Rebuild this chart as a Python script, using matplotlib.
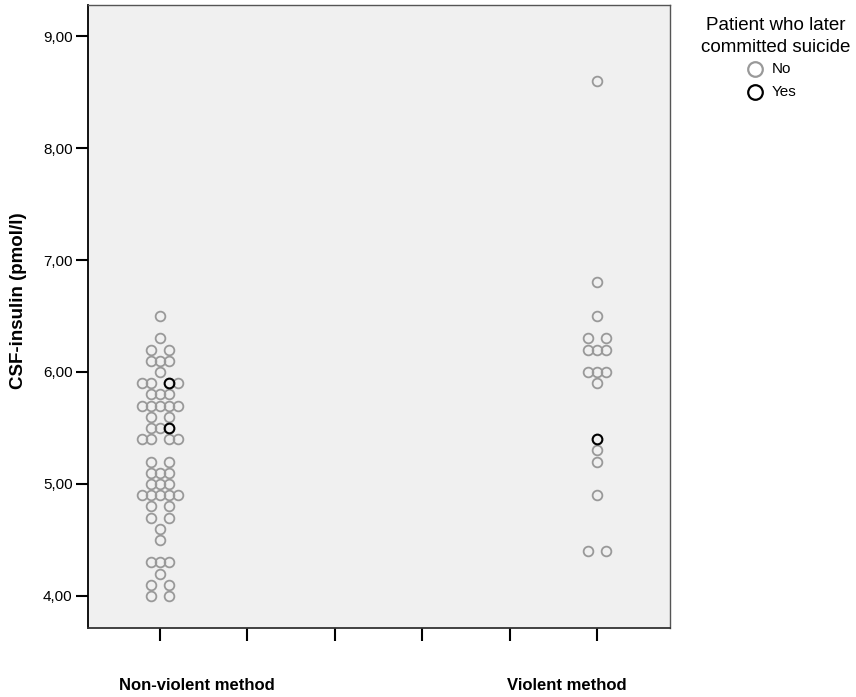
import matplotlib
matplotlib.use("Agg")
import matplotlib.pyplot as plt
from matplotlib.lines import Line2D
from collections import defaultdict

plt.rcParams['font.family'] = ['Liberation Sans', 'DejaVu Sans']

# ---- data ----
groups = ["Non-violent method", "Violent method"]
group_pos = [0, 5]

nonviolent_values = [6.5, 6.3, 6.2, 6.2, 6.1, 6.1, 6.1, 6.0,
                     5.9, 5.9, 5.9, 5.9, 5.8, 5.8, 5.8,
                     5.7, 5.7, 5.7, 5.7, 5.7, 5.6, 5.6,
                     5.5, 5.5, 5.5, 5.4, 5.4, 5.4, 5.4,
                     5.2, 5.2, 5.1, 5.1, 5.1, 5.0, 5.0, 5.0,
                     4.9, 4.9, 4.9, 4.9, 4.9, 4.8, 4.8, 4.7, 4.7,
                     4.6, 4.5, 4.3, 4.3, 4.3, 4.2, 4.1, 4.1, 4.0, 4.0]
nonviolent_suicide = [0] * len(nonviolent_values)
nonviolent_suicide[10] = 1   # 5.9
nonviolent_suicide[24] = 1   # 5.5

violent_values = [8.6, 6.8, 6.5, 6.3, 6.3, 6.2, 6.2, 6.2,
                  6.0, 6.0, 6.0, 5.9, 5.4, 5.3, 5.2, 4.9, 4.4, 4.4]
violent_suicide = [0] * len(violent_values)
violent_suicide[12] = 1      # 5.4

yticks = [4, 5, 6, 7, 8, 9]
ytick_labels = ["4,00", "5,00", "6,00", "7,00", "8,00", "9,00"]

step = 0.103

fig = plt.figure(figsize=(8.56, 6.97), dpi=100)
ax = fig.add_axes([88/856, 1-628/697, (670-88)/856, (628-5)/697])
ax.set_facecolor('#f0f0f0')

def stack(values):
    rows = defaultdict(list)
    for i, v in enumerate(values):
        rows[round(v, 2)].append(i)
    offs = [0.0] * len(values)
    for v, idx in rows.items():
        n = len(idx)
        if n % 2 == 1:
            slots = list(range(-(n // 2), n // 2 + 1))
        else:
            h = n // 2
            slots = list(range(-h, 0)) + list(range(1, h + 1))
        for k, i in enumerate(idx):
            offs[i] = slots[k] * step
    return offs

for gx, vals, flags in [(group_pos[0], nonviolent_values, nonviolent_suicide),
                        (group_pos[1], violent_values, violent_suicide)]:
    offs = stack(vals)
    for v, o, f in zip(vals, offs, flags):
        ax.plot(gx + o, v, 'o', markersize=7, markerfacecolor='none',
                markeredgecolor='black' if f else '#999999',
                markeredgewidth=1.5 if f else 1.3, zorder=3 if f else 2)

ax.set_xlim(-0.824, 5.835)
ax.set_ylim(3.714, 9.277)
ax.set_xticks([0, 1, 2, 3, 4, 5])
ax.set_xticklabels([])
ax.set_yticks(yticks)
ax.set_yticklabels(ytick_labels, fontsize=11)
ax.tick_params(axis='both', length=9, width=1.5, color='black', pad=2)
for s in ['top', 'right']:
    ax.spines[s].set_color('#555555')
    ax.spines[s].set_linewidth(1.0)
ax.spines['left'].set_color('black')
ax.spines['left'].set_linewidth(1.3)
ax.spines['bottom'].set_color('#333333')
ax.spines['bottom'].set_linewidth(1.3)

fig.text(19/856, 1-301/697, "CSF-insulin (pmol/l)", fontsize=13.5, fontweight='bold',
         rotation=90, ha='center', va='center')

fig.text(197/856, 1-685/697, groups[0], fontsize=12, fontweight='bold',
         ha='center', va='center')
fig.text(567/856, 1-685/697, groups[1], fontsize=12, fontweight='bold',
         ha='center', va='center')

# legend
fig.text(776/856, 1-26/697, "Patient who later", fontsize=13.5, ha='center', va='center')
fig.text(776/856, 1-48/697, "committed suicide", fontsize=13.5, ha='center', va='center')
for yy, col, lab in [(69, '#999999', 'No'), (92, 'black', 'Yes')]:
    fig.add_artist(Line2D([755/856], [1-yy/697], marker='o', markersize=10.5,
                          markerfacecolor='none', markeredgecolor=col,
                          markeredgewidth=1.6, linestyle='none',
                          transform=fig.transFigure))
    fig.text(772/856, 1-yy/697, lab, fontsize=11, ha='left', va='center')

fig.savefig("out.png", dpi=100)
